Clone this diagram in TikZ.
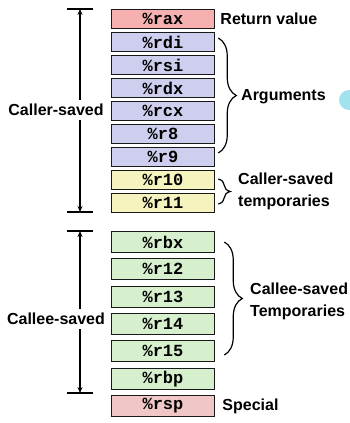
\documentclass[tikz,border=0pt]{standalone}
\usepackage{fontspec}
\setmainfont{Liberation Sans}
\newfontfamily\regfont{Liberation Mono}
\usetikzlibrary{arrows.meta,positioning,decorations.pathreplacing,calc}
\definecolor{regred}{RGB}{246,176,176}
\definecolor{regpink}{RGB}{240,198,198}
\definecolor{regblue}{RGB}{206,206,238}
\definecolor{regyellow}{RGB}{246,244,190}
\definecolor{reggreen}{RGB}{214,240,206}
\definecolor{blobcyan}{RGB}{160,226,238}
\tikzset{
  reg/.style={rectangle,draw=black!90,line width=1.5pt,fill=#1,
              minimum width=103pt,minimum height=19pt,inner sep=0pt,
              font={\regfont\bfseries\fontsize{17pt}{17pt}\selectfont}},
  reg/.default=regblue,
  lbl/.style={font={\bfseries\fontsize{16pt}{22pt}\selectfont},
              align=left,inner sep=2pt},
  side/.style={lbl,inner sep=4pt},
  dim/.style={-{Stealth[length=6pt,width=5pt]},line width=1.2pt},
  barend/.style={line width=1.2pt},
  brc/.style={decorate,decoration={brace,amplitude=#1},line width=1.2pt},
  brc/.default=16pt,
}

\begin{document}
\begin{tikzpicture}[x=1pt,y=-1pt]
  \useasboundingbox (0,0) rectangle (349,423);

  % caller-saved registers
  \foreach \name/\y/\col in {
    rax/19/regred, rdi/42/regblue, rsi/65/regblue, rdx/88/regblue,
    rcx/111/regblue, r8/134/regblue, r9/157/regblue,
    r10/180/regyellow, r11/203/regyellow}{
    \node[reg=\col] (\name) at (163,\y) {\%\name};
  }

  % callee-saved registers
  \foreach \name/\y/\col in {
    rbx/242/reggreen, r12/269/reggreen, r13/297/reggreen, r14/324/reggreen,
    r15/351/reggreen, rbp/379/reggreen, rsp/406/regpink}{
    \node[reg=\col,minimum height=21pt] (\name) at (163,\y) {\%\name};
  }

  \node[lbl,right=3pt of rax] (ret) {Return value};
  \node[lbl,right=5pt of rsp] (spec) {Special};

  % braces on the right
  \draw[brc=18pt] ([xshift=3pt,yshift=4pt]rdi.east) -- ([xshift=3pt,yshift=4pt]r9.east);
  \node[lbl,anchor=west] (args) at (239,97) {Arguments};

  \draw[brc=12pt] ([xshift=3pt,yshift=1pt]r10.east) -- ([xshift=3pt,yshift=-1pt]r11.east);
  \node[lbl,anchor=west] (ctemp) at (236,191) {Caller-saved\\temporaries};

  \draw[brc=18pt] ([xshift=9pt]rbx.east) -- ([xshift=9pt,yshift=-4pt]r15.east);
  \node[lbl,anchor=west] (etemp) at (248,301) {Callee-saved\\Temporaries};

  % spans on the left
  \node[side] (caller) at (56,110) {Caller-saved};
  \coordinate (ctop) at (80,9);
  \coordinate (cbot) at (80,212);
  \draw[barend] ([xshift=-13pt]ctop) -- ([xshift=13pt]ctop);
  \draw[barend] ([xshift=-13pt]cbot) -- ([xshift=13pt]cbot);
  \draw[dim] (caller.north -| ctop) -- (ctop);
  \draw[dim] (caller.south -| cbot) -- (cbot);

  \node[side] (callee) at (56,319) {Callee-saved};
  \coordinate (etop) at (80,231);
  \coordinate (ebot) at (80,393);
  \draw[barend] ([xshift=-13pt]etop) -- ([xshift=13pt]etop);
  \draw[barend] ([xshift=-13pt]ebot) -- ([xshift=13pt]ebot);
  \draw[dim] (callee.north -| etop) -- (etop);
  \draw[dim] (callee.south -| ebot) -- (ebot);

  \fill[blobcyan] (349,100) circle (10);
\end{tikzpicture}
\end{document}
